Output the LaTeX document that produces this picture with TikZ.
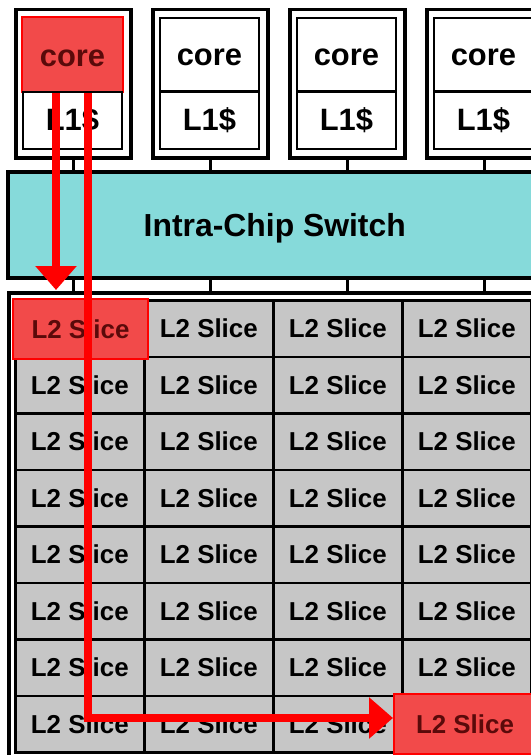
\documentclass[tikz,border=0pt]{standalone}
\usepackage{fontspec}
\setmainfont{Liberation Sans}
\usetikzlibrary{arrows.meta}
\definecolor{cyanfill}{HTML}{86DADA}
\definecolor{greyfill}{HTML}{C6C6C6}
\definecolor{redfill}{HTML}{F24A4A}
\definecolor{redtext}{HTML}{5A0A0A}
\tikzset{
  box/.style={inner sep=0pt, anchor=north west},
  outerbox/.style={box, draw=black, line width=3.5bp, fill=white},
  innerbox/.style={box, draw=black, line width=1.8bp, fill=white, font=\fontsize{31}{31}\selectfont\bfseries},
  coretext/.style={text height=23bp, text depth=0bp},
  redcore/.style={box, draw=red, line width=2bp, fill=redfill, text=redtext, font=\fontsize{31}{31}\selectfont\bfseries},
  switchbox/.style={box, draw=black, line width=3.5bp, fill=cyanfill, text height=23bp, text depth=0bp, font=\fontsize{32}{32}\selectfont\bfseries},
  slice/.style={box, draw=black, line width=2.6bp, fill=greyfill, font=\fontsize{26}{26}\selectfont\bfseries},
  redslice/.style={box, draw=red, line width=2bp, fill=redfill, text=redtext, font=\fontsize{26}{26}\selectfont\bfseries},
  conn/.style={draw=black, line width=2.8bp},
  redarrow/.style={draw=red, line width=8bp, -{Triangle[length=24bp,width=40bp]}}
}
\begin{document}
\begin{tikzpicture}[x=1bp,y=-1bp]
\useasboundingbox (0,0) rectangle (531,755);
\clip (0,0) rectangle (531,755);
% cores
\foreach \k in {0,1,2,3}{
  \pgfmathsetmacro{\xo}{14+137*\k}
  \node[outerbox, minimum width=115bp, minimum height=148bp] (co\k) at (\xo,8) {};
  \ifnum\k=0
    \node[redcore, coretext, minimum width=101bp, minimum height=75bp] (c\k) at (\xo+7,16) {core};
  \else
    \node[innerbox, coretext, minimum width=99bp, minimum height=73bp] (c\k) at (\xo+8,17) {core};
  \fi
  \node[innerbox, minimum width=99bp, minimum height=57bp] (l\k) at (\xo+8,91) {L1\$};
}
% switch
\node[switchbox, minimum width=534bp, minimum height=106bp] (sw) at (6,170) {Intra-Chip Switch};
% L2 outer
\node[outerbox, minimum width=560bp, minimum height=500bp] (l2o) at (7,291) {};
% connectors
\foreach \k in {0,1,2,3}{
  \draw[conn] (co\k.south) -- (sw.north -| co\k.south);
  \draw[conn] (sw.south -| co\k.south) -- (l2o.north -| co\k.south);
}
% grid
\foreach \i in {0,...,7}{
  \foreach \j in {0,...,3}{
    \ifnum\i\j=0 \else\ifnum\i\j=73 \else
      \node[slice, minimum width=129bp, minimum height=56.5bp] (s\i\j) at (14+129*\j,299+56.5*\i) {L2 Slice};
    \fi\fi
  }
}
\node[redslice, minimum width=135bp, minimum height=60bp] (rA) at (12,298) {L2 Slice};
\node[redslice, minimum width=142bp, minimum height=60bp] (rB) at (393,693) {L2 Slice};
% red arrows
\coordinate (a1) at (56,0);
\coordinate (a2) at (88,0);
\draw[redarrow, shorten >=8bp] (c0.south -| a1) -- (rA.north -| a1);
\draw[redarrow] (c0.south -| a2) |- ([yshift=6bp]rB.west);
\end{tikzpicture}
\end{document}
